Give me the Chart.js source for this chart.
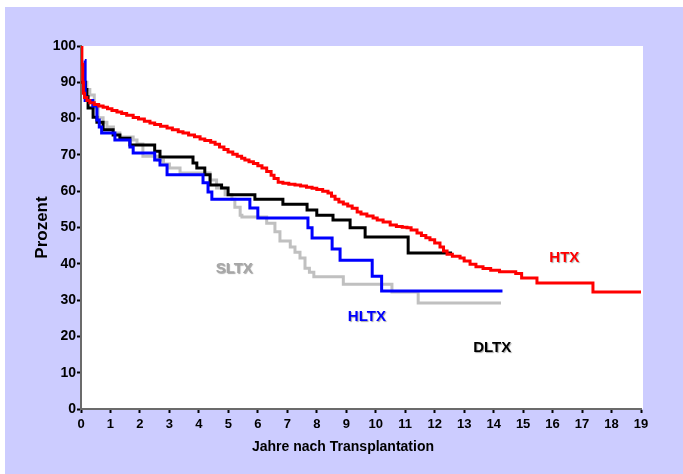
<!DOCTYPE html>
<html lang="de">
  <head>
    <meta charset="UTF-8" />
    <script src="https://cdn.jsdelivr.net/npm/chart.js@4.4.0/dist/chart.umd.min.js"></script>
    <title>Überleben nach Transplantation</title>
    <style>
      body {
        margin: 0;
        padding: 0;
        background: #fff;
      }

      .container {
        width: 683px;
        height: 474px;
      }
    </style>
  </head>
  <body>
    <div class="container">
      <canvas id="survival"></canvas>
    </div>
    <script>
      // Kaplan-Meier Stufen: Jahr des Abfalls und Prozent danach
      const htxYears = [0, 0.03, 0.06, 0.08, 0.12, 0.2, 0.3, 0.45, 0.6, 0.75, 0.9, 1.05, 1.22, 1.38, 1.55, 1.77, 1.95, 2.15, 2.34, 2.5, 2.7, 2.92, 3.1, 3.3, 3.46, 3.65, 3.85, 4.04, 4.2, 4.4, 4.55, 4.7, 4.85, 4.99, 5.15, 5.3, 5.45, 5.56, 5.7, 5.85, 6.0, 6.14, 6.3, 6.45, 6.55, 6.69, 6.85, 7.05, 7.26, 7.45, 7.65, 7.84, 8.0, 8.2, 8.38, 8.5, 8.62, 8.75, 8.9, 9.05, 9.2, 9.37, 9.5, 9.7, 9.91, 10.05, 10.25, 10.49, 10.7, 10.9, 11.06, 11.2, 11.4, 11.55, 11.7, 11.84, 12.0, 12.18, 12.3, 12.42, 12.6, 12.86, 13.0, 13.2, 13.4, 13.64, 13.9, 14.2, 14.75, 14.95, 15.47, 17.37, 19.0]
      const htxPct = [100, 95, 90, 87, 85.8, 85, 84.4, 83.9, 83.5, 83.1, 82.7, 82.2, 81.8, 81.4, 80.9, 80.3, 79.9, 79.3, 78.8, 78.4, 77.9, 77.4, 76.9, 76.4, 76, 75.5, 75, 74.4, 74, 73.5, 72.9, 72.2, 71.5, 70.8, 70.2, 69.6, 69.1, 68.6, 68.1, 67.6, 67, 66.4, 65.4, 64.4, 63.5, 62.5, 62.2, 61.9, 61.7, 61.4, 61.1, 60.8, 60.5, 60.0, 59.5, 58.6, 57.8, 57.0, 56.5, 55.9, 55.3, 54.3, 53.7, 53.2, 52.6, 52.1, 51.5, 50.7, 50.3, 50.1, 49.9, 49.3, 48.5, 47.8, 47.2, 46.6, 45.7, 44.6, 43.5, 42.6, 42.1, 41.6, 40.8, 39.9, 39.2, 38.7, 38.2, 37.8, 37.3, 36.1, 34.7, 32.2, 32.2]

      const hltxYears = [0.13, 0.14, 0.4, 0.54, 0.62, 0.7, 1.15, 1.66, 1.77, 2.5, 2.68, 2.92, 4.14, 4.31, 4.44, 5.73, 6.0, 7.7, 7.84, 8.52, 8.79, 9.88, 10.2, 14.3]
      const hltxPct = [96, 85, 83.5, 79.6, 77.7, 76, 74.1, 72.2, 70.5, 68.6, 67.2, 64.5, 62.3, 59.8, 57.8, 55.4, 52.6, 49.9, 47.1, 44.1, 41.0, 36.6, 32.5, 32.5]

      const dltxYears = [0, 0.15, 0.2, 0.24, 0.41, 0.54, 0.75, 1.09, 1.32, 1.66, 2.5, 2.68, 3.8, 3.93, 4.2, 4.38, 4.77, 4.99, 5.9, 6.85, 7.67, 8.0, 8.55, 9.13, 9.64, 11.1, 12.59]
      const dltxPct = [90, 88, 86, 82.9, 80.4, 79, 76.9, 75.5, 74.6, 72.7, 71, 69.4, 67.8, 66.4, 64.5, 61.7, 60.9, 59, 57.8, 56.4, 54.8, 53.4, 52.1, 49.9, 47.4, 43.0, 43.0]

      const sltxYears = [0, 0.2, 0.3, 0.45, 0.58, 0.75, 0.88, 1.1, 1.32, 1.77, 1.9, 2.1, 2.6, 2.8, 3.0, 3.36, 4.38, 4.6, 4.89, 5.12, 5.22, 5.4, 5.46, 6.3, 6.58, 6.75, 7.1, 7.26, 7.43, 7.6, 7.75, 7.9, 8.9, 10.55, 11.44, 14.25]
      const sltxPct = [90, 88, 86.5, 83, 80.2, 79, 77.7, 76, 74.9, 74.1, 73, 69.6, 68.6, 67.5, 66.4, 65, 63.1, 60.9, 59, 57.8, 55.6, 53.4, 52.9, 51.2, 48.8, 46.3, 44.6, 43.2, 41.6, 38.8, 37.7, 36.4, 34.4, 32.2, 29.2, 29.2]

      const yearTicks = [0, 1, 2, 3, 4, 5, 6, 7, 8, 9, 10, 11, 12, 13, 14, 15, 16, 17, 18, 19]
      const pctTicks = [0, 10, 20, 30, 40, 50, 60, 70, 80, 90, 100]

      const toPoints = (xs, ys) => xs.map((x, i) => ({ x: x, y: ys[i] }))

      // Beschriftung direkt an den Kurven
      const curveLabels = [
        { text: 'SLTX', year: 5.2, pct: 38.5, color: '#a6a6a6' },
        { text: 'HLTX', year: 9.7, pct: 25.5, color: '#0000ff' },
        { text: 'DLTX', year: 13.95, pct: 16.8, color: '#000000' },
        { text: 'HTX', year: 16.4, pct: 41.5, color: '#ff0000' },
      ]

      const backdrop = {
        id: 'backdrop',
        beforeDraw(chart) {
          const { ctx, chartArea: a } = chart
          ctx.save()
          ctx.fillStyle = '#ffffff'
          ctx.fillRect(0, 0, chart.width, chart.height)
          ctx.fillStyle = '#ccccff'
          ctx.fillRect(5, 7, chart.width - 5, chart.height - 7)
          ctx.fillStyle = '#ffffff'
          ctx.fillRect(a.left, a.top, a.right - a.left + 2, a.bottom - a.top)
          ctx.restore()
        },
        afterDraw(chart) {
          const { ctx, scales } = chart
          ctx.save()
          ctx.textAlign = 'center'
          ctx.textBaseline = 'middle'
          ctx.font = 'bold 15px "Liberation Sans", Arial, sans-serif'
          ctx.shadowColor = 'rgba(0, 0, 0, 0.35)'
          ctx.shadowOffsetX = 1
          ctx.shadowOffsetY = 1
          ctx.shadowBlur = 1
          curveLabels.forEach((l) => {
            ctx.fillStyle = l.color
            ctx.fillText(l.text, scales.x.getPixelForValue(l.year), scales.y.getPixelForValue(l.pct))
          })
          ctx.shadowColor = 'transparent'
          ctx.fillStyle = '#000'
          ctx.font = 'bold 14px "Liberation Sans", Arial, sans-serif'
          ctx.fillText('Jahre nach Transplantation', 343, 447)
          ctx.restore()
        },
      }

      const line = (label, xs, ys, color) => ({
        label: label,
        data: toPoints(xs, ys),
        borderColor: color,
        backgroundColor: color,
        borderWidth: 3,
        pointRadius: 0,
        stepped: true,
        fill: false,
      })

      const tickFont = { family: '"Liberation Sans", Arial, sans-serif', weight: 'bold' }

      new Chart(document.getElementById('survival'), {
        type: 'line',
        data: {
          datasets: [
            line('HTX', htxYears, htxPct, '#ff0000'),
            line('HLTX', hltxYears, hltxPct, '#0000ff'),
            line('DLTX', dltxYears, dltxPct, '#000000'),
            line('SLTX', sltxYears, sltxPct, '#c0c0c0'),
          ],
        },
        options: {
          responsive: true,
          maintainAspectRatio: false,
          animation: false,
          layout: { padding: { left: 0, top: 46, right: 42, bottom: 0 } },
          plugins: {
            legend: { display: false },
            tooltip: { enabled: false },
          },
          scales: {
            x: {
              type: 'linear',
              min: 0,
              max: 19,
              afterFit: (scale) => {
                scale.height = 65
              },
              afterBuildTicks: (scale) => {
                scale.ticks = yearTicks.map((v) => ({ value: v }))
              },
              ticks: {
                color: '#000',
                padding: 4,
                maxRotation: 0,
                autoSkip: false,
                font: { ...tickFont, size: 13 },
              },
              grid: {
                drawOnChartArea: false,
                tickLength: 4,
                tickWidth: 2,
                tickColor: '#000',
              },
              border: { color: '#6b6b6b', width: 2 },
            },
            y: {
              min: 0,
              max: 100,
              afterFit: (scale) => {
                scale.width = 81
              },
              afterBuildTicks: (scale) => {
                scale.ticks = pctTicks.map((v) => ({ value: v }))
              },
              ticks: {
                color: '#000',
                padding: 1,
                font: { ...tickFont, size: 14 },
              },
              grid: {
                drawOnChartArea: false,
                tickLength: 4,
                tickWidth: 2,
                tickColor: '#000',
              },
              border: { color: '#6b6b6b', width: 2 },
              title: {
                display: true,
                text: 'Prozent',
                color: '#000',
                font: { ...tickFont, size: 17 },
                padding: { top: 32, bottom: 0 },
              },
            },
          },
        },
        plugins: [backdrop],
      })
    </script>
  </body>
</html>
